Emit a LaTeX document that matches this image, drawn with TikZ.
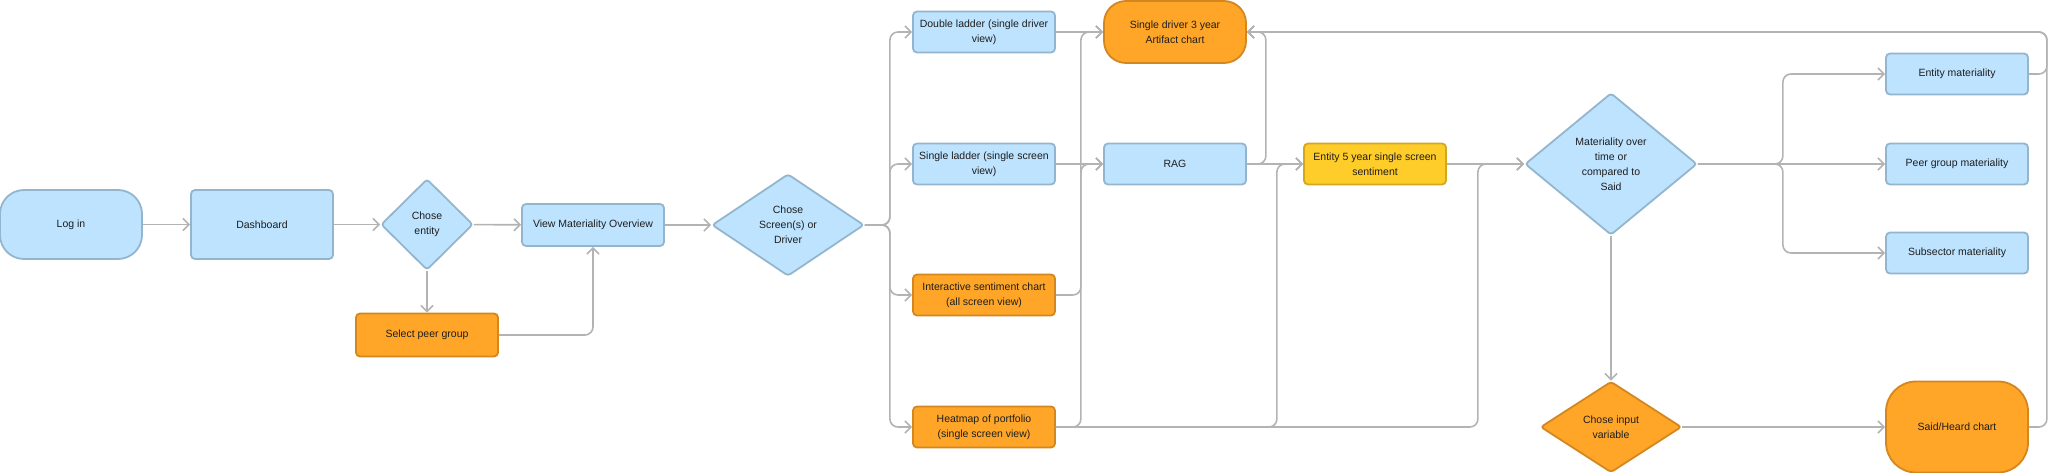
\documentclass[tikz,border=0pt]{standalone}
\usepackage{fontspec}
\setmainfont{Liberation Sans}
\usetikzlibrary{shapes.geometric,arrows.meta}
\definecolor{bluefill}{HTML}{BDE3FF}
\definecolor{blueline}{HTML}{94B5CE}
\definecolor{orangefill}{HTML}{FFA629}
\definecolor{orangeline}{HTML}{D4861F}
\definecolor{yellowfill}{HTML}{FFCD29}
\definecolor{yellowline}{HTML}{D4A81E}
\definecolor{linkgray}{HTML}{B3B3B3}
\definecolor{textdark}{HTML}{1E1E1E}

\begin{document}
\begin{tikzpicture}[x=1pt, y=-1pt,
    every node/.style={font=\fontsize{10.5}{15}\selectfont, text=textdark, align=center, line width=1.8pt},
    box/.style={draw=blueline, fill=bluefill, rounded corners=4pt, minimum width=142pt, minimum height=41pt, inner sep=0pt},
    obox/.style={box, draw=orangeline, fill=orangefill},
    ybox/.style={box, draw=yellowline, fill=yellowfill},
    pill/.style={box, rounded corners=24pt},
    opill/.style={obox, rounded corners=24pt},
    choice/.style={diamond, draw=blueline, fill=bluefill, rounded corners=3pt, inner sep=0pt},
    ochoice/.style={choice, draw=orangeline, fill=orangefill},
    link/.style={draw=linkgray, line width=1.6pt, rounded corners=8pt, -{Straight Barb[length=6pt, width=12pt]}}]
    \useasboundingbox (0,0) rectangle (2048,473);

    % first column
    \node[pill, minimum height=69pt] (login) at (71,224.5) {Log in};
    \node[box, minimum height=69pt] (dash) at (262,224.5) {Dashboard};
    \node[choice, minimum width=92pt, minimum height=91pt] (entity) at (427,224.5) {Chose\\entity};
    \node[obox, minimum height=43pt] (peer) at (427,335) {Select peer group};
    \node[box, minimum height=42pt] (vmo) at (593,225) {View Materiality Overview};
    \node[choice, minimum width=152pt, minimum height=102pt] (screen) at (788,225) {Chose\\Screen(s) or\\Driver};

    % views
    \node[box] (dladder) at (984,32) {Double ladder (single driver\\view)};
    \node[box] (sladder) at (984,164) {Single ladder (single screen\\view)};
    \node[obox] (inter) at (984,295) {Interactive sentiment chart\\(all screen view)};
    \node[obox] (heat) at (984,427) {Heatmap of portfolio\\(single screen view)};

    % charts
    \node[opill, minimum height=62pt, rounded corners=22pt] (driver3) at (1175,32) {Single driver 3 year\\Artifact chart};
    \node[box] (rag) at (1175,164) {RAG};
    \node[ybox] (e5y) at (1375,164) {Entity 5 year single screen\\sentiment};
    \node[choice, minimum width=172pt, minimum height=142pt] (mat) at (1611,164) {Materiality over\\time or\\compared to\\Said};
    \node[ochoice, minimum width=141pt, minimum height=91pt] (input) at (1611,427) {Chose input\\variable};
    \node[box] (ent) at (1957,74) {Entity materiality};
    \node[box] (peermat) at (1957,164) {Peer group materiality};
    \node[box] (sub) at (1957,253) {Subsector materiality};
    \node[opill, minimum height=91pt, rounded corners=30pt] (said) at (1957,427) {Said/Heard chart};

    \draw[link] (login) -- (dash);
    \draw[link] (dash) -- (entity);
    \draw[link] (entity) -- (vmo);
    \draw[link] (entity) -- (peer);
    \draw[link] (peer.east) -| (vmo.south);
    \draw[link] (vmo) -- (screen);

    \draw[link] (screen.east) -- ++(25,0) |- (dladder.west);
    \draw[link] (screen.east) -- ++(25,0) |- (sladder.west);
    \draw[link] (screen.east) -- ++(25,0) |- (inter.west);
    \draw[link] (screen.east) -- ++(25,0) |- (heat.west);

    \draw[link] (dladder) -- (driver3);
    \draw[link] (sladder) -- (rag);
    \draw[link] (inter.east) -- ++(25,0) |- (driver3.west);
    \draw[link] (heat.east) -- ++(25,0) |- (rag.west);
    \draw[link] (rag.east) -- ++(19,0) |- (driver3.east);
    \draw[link] (rag) -- (e5y);
    \draw[link] (heat.east) -- ++(221,0) |- (e5y.west);
    \draw[link] (e5y) -- (mat);
    \draw[link] (heat.east) -- ++(422,0) |- (mat.west);

    \draw[link] (mat.east) -- ++(85,0) |- (ent.west);
    \draw[link] (mat) -- (peermat);
    \draw[link] (mat.east) -- ++(85,0) |- (sub.west);
    \draw[link] (mat) -- (input);
    \draw[link] (input) -- (said);
    \draw[link] (ent.east) -- ++(18,0) |- (driver3.east);
    \draw[link] (said.east) -- ++(18,0) |- (driver3.east);
\end{tikzpicture}
\end{document}
